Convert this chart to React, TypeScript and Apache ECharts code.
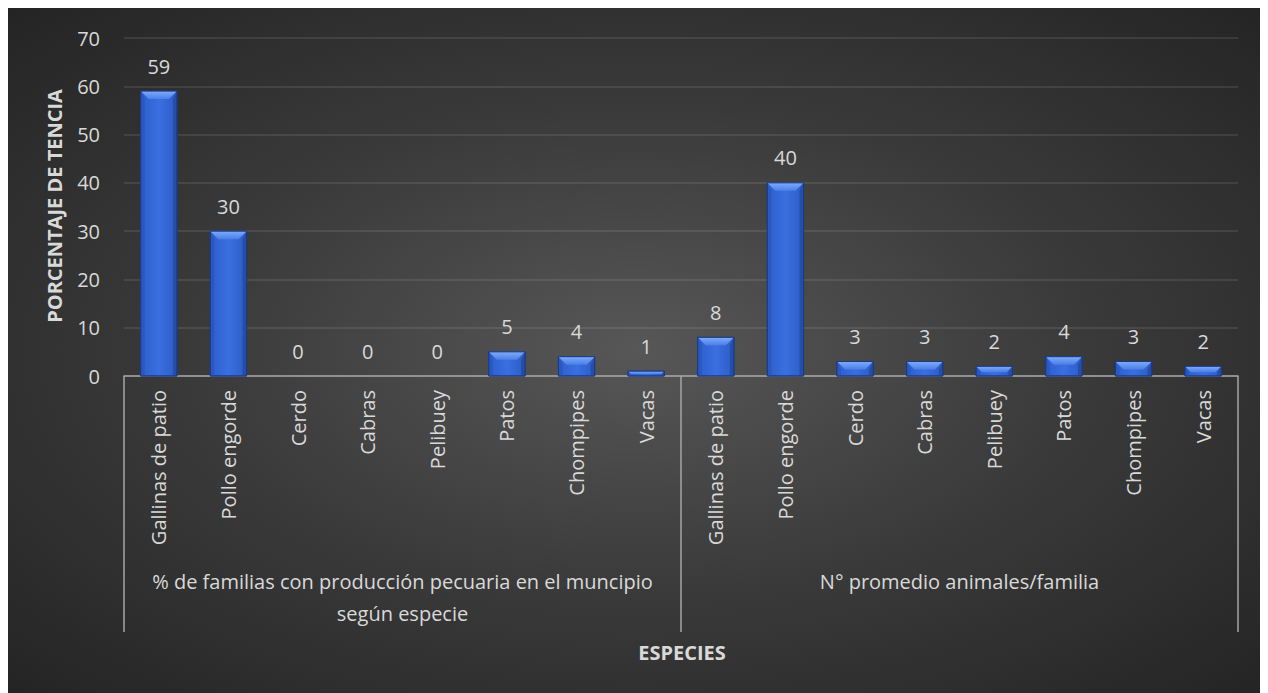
import React, { useEffect, useRef } from "react";
import * as echarts from "echarts";

const species = ["Gallinas de patio", "Pollo engorde", "Cerdo", "Cabras", "Pelibuey", "Patos", "Chompipes", "Vacas"];
const groups = [
  "% de familias con producción pecuaria en el muncipio\nsegún especie",
  "N° promedio animales/familia",
];
const pctFamilies = [59, 30, 0, 0, 0, 5, 4, 1];
const avgAnimals = [8, 40, 3, 3, 2, 4, 3, 2];
const yTicks = { min: 0, max: 70, interval: 10 };
const yTitle = "PORCENTAJE DE TENCIA";
const xTitle = "ESPECIES";

const FONT = '"Open Sans", "Noto Sans", sans-serif';
const TXT = "#d9d9d9";

export default function App() {
  const ref = useRef<HTMLDivElement>(null);
  useEffect(() => {
    if (!ref.current) return;
    const chart = echarts.init(ref.current, undefined, { renderer: "svg" });
    const categories = [...species, ...species];
    const values = [...pctFamilies, ...avgAnimals];
    const data = values.map((v, i) => [i, v]);

    const renderItem = (params: any, api: any) => {
      const idx = api.value(0);
      const v = api.value(1);
      const top = api.coord([idx, v]);
      const base = api.coord([idx, 0]);
      const w = api.size([1, 0])[0] * 0.52;
      const cx = top[0];
      const x0 = cx - w / 2;
      const x1 = cx + w / 2;
      const y0 = top[1];
      const y1 = base[1];
      const h = y1 - y0;
      const children: any[] = [];
      if (h > 0.5) {
        const b = Math.min(8, h * 0.6, w / 2);
        const s = Math.min(4, h / 2);
        children.push({
          type: "rect",
          shape: { x: x0, y: y0, width: w, height: h },
          style: {
            fill: new echarts.graphic.LinearGradient(0, 0, 1, 0, [
              { offset: 0, color: "#2d5ecb" },
              { offset: 0.5, color: "#3a6fe0" },
              { offset: 1, color: "#2c5cc6" },
            ]),
            stroke: "#1c3e8c",
            lineWidth: 1,
          },
        });
        children.push({
          type: "polygon",
          shape: { points: [[x0, y0], [x0 + s, y0 + b], [x0 + s, y1], [x0, y1]] },
          style: { fill: "#2a58c0" },
        });
        children.push({
          type: "polygon",
          shape: { points: [[x1, y0], [x1 - s, y0 + b], [x1 - s, y1], [x1, y1]] },
          style: { fill: "#244ea8" },
        });
        children.push({
          type: "polygon",
          shape: { points: [[x0, y0], [x1, y0], [x1 - b, y0 + b], [x0 + b, y0 + b]] },
          style: {
            fill: new echarts.graphic.LinearGradient(0, 0, 0, 1, [
              { offset: 0, color: "#80abf8" },
              { offset: 1, color: "#4a7fea" },
            ]),
          },
        });
        children.push({
          type: "rect",
          shape: { x: x0, y: y0, width: w, height: h },
          style: { fill: "none", stroke: "#1a3a84", lineWidth: 1 },
        });
      }
      children.push({
        type: "text",
        style: {
          text: String(v),
          x: cx,
          y: y0 - 15,
          align: "center",
          verticalAlign: "bottom",
          fill: TXT,
          fontSize: 20,
          fontFamily: FONT,
        },
      });
      return { type: "group", children };
    };

    chart.setOption({
      animation: false,
      backgroundColor: "transparent",
      grid: { left: 116, right: 30, top: 30, bottom: 317, containLabel: false },
      xAxis: [
        {
          type: "category",
          data: categories,
          axisLine: { show: true, lineStyle: { color: "#a6a6a6", width: 1.5 } },
          axisTick: { show: false },
          axisLabel: {
            rotate: 90,
            interval: 0,
            margin: 14,
            color: TXT,
            fontSize: 20,
            fontFamily: FONT,
          },
          splitLine: { show: false },
        },
        {
          type: "category",
          data: groups,
          position: "bottom",
          axisLine: { show: false },
          axisTick: {
            show: true,
            interval: 0,
            length: 256,
            alignWithLabel: false,
            lineStyle: { color: "#a6a6a6", width: 1.5 },
          },
          axisLabel: {
            interval: 0,
            margin: 189,
            color: TXT,
            fontSize: 20,
            lineHeight: 32,
            fontFamily: FONT,
            align: "center",
          },
          splitLine: { show: false },
        },
      ],
      yAxis: {
        type: "value",
        min: yTicks.min,
        max: yTicks.max,
        interval: yTicks.interval,
        axisLine: { show: false },
        axisTick: { show: false },
        axisLabel: { color: TXT, fontSize: 20, fontFamily: FONT, margin: 24 },
        splitLine: { lineStyle: { color: "rgba(255,255,255,0.12)", width: 1.5 } },
      },
      graphic: [
        {
          type: "text",
          x: 46,
          y: 198,
          rotation: Math.PI / 2,
          style: {
            text: yTitle,
            align: "center",
            verticalAlign: "middle",
            fill: TXT,
            fontSize: 20,
            fontWeight: "bold",
            fontFamily: FONT,
          },
        },
        {
          type: "text",
          x: 674,
          y: 644,
          style: {
            text: xTitle,
            align: "center",
            verticalAlign: "middle",
            fill: TXT,
            fontSize: 20,
            fontWeight: "bold",
            fontFamily: FONT,
          },
        },
      ],
      series: [
        {
          type: "custom",
          xAxisIndex: 0,
          yAxisIndex: 0,
          data,
          encode: { x: 0, y: 1 },
          renderItem,
        },
      ],
    });
    return () => chart.dispose();
  }, []);

  return (
    <div
      ref={ref}
      style={{
        width: 1260,
        height: 685,
        background: "radial-gradient(ellipse farthest-corner at 50% 50%, #575757 0%, #3a3a3a 50%, #242424 100%)",
      }}
    />
  );
}
